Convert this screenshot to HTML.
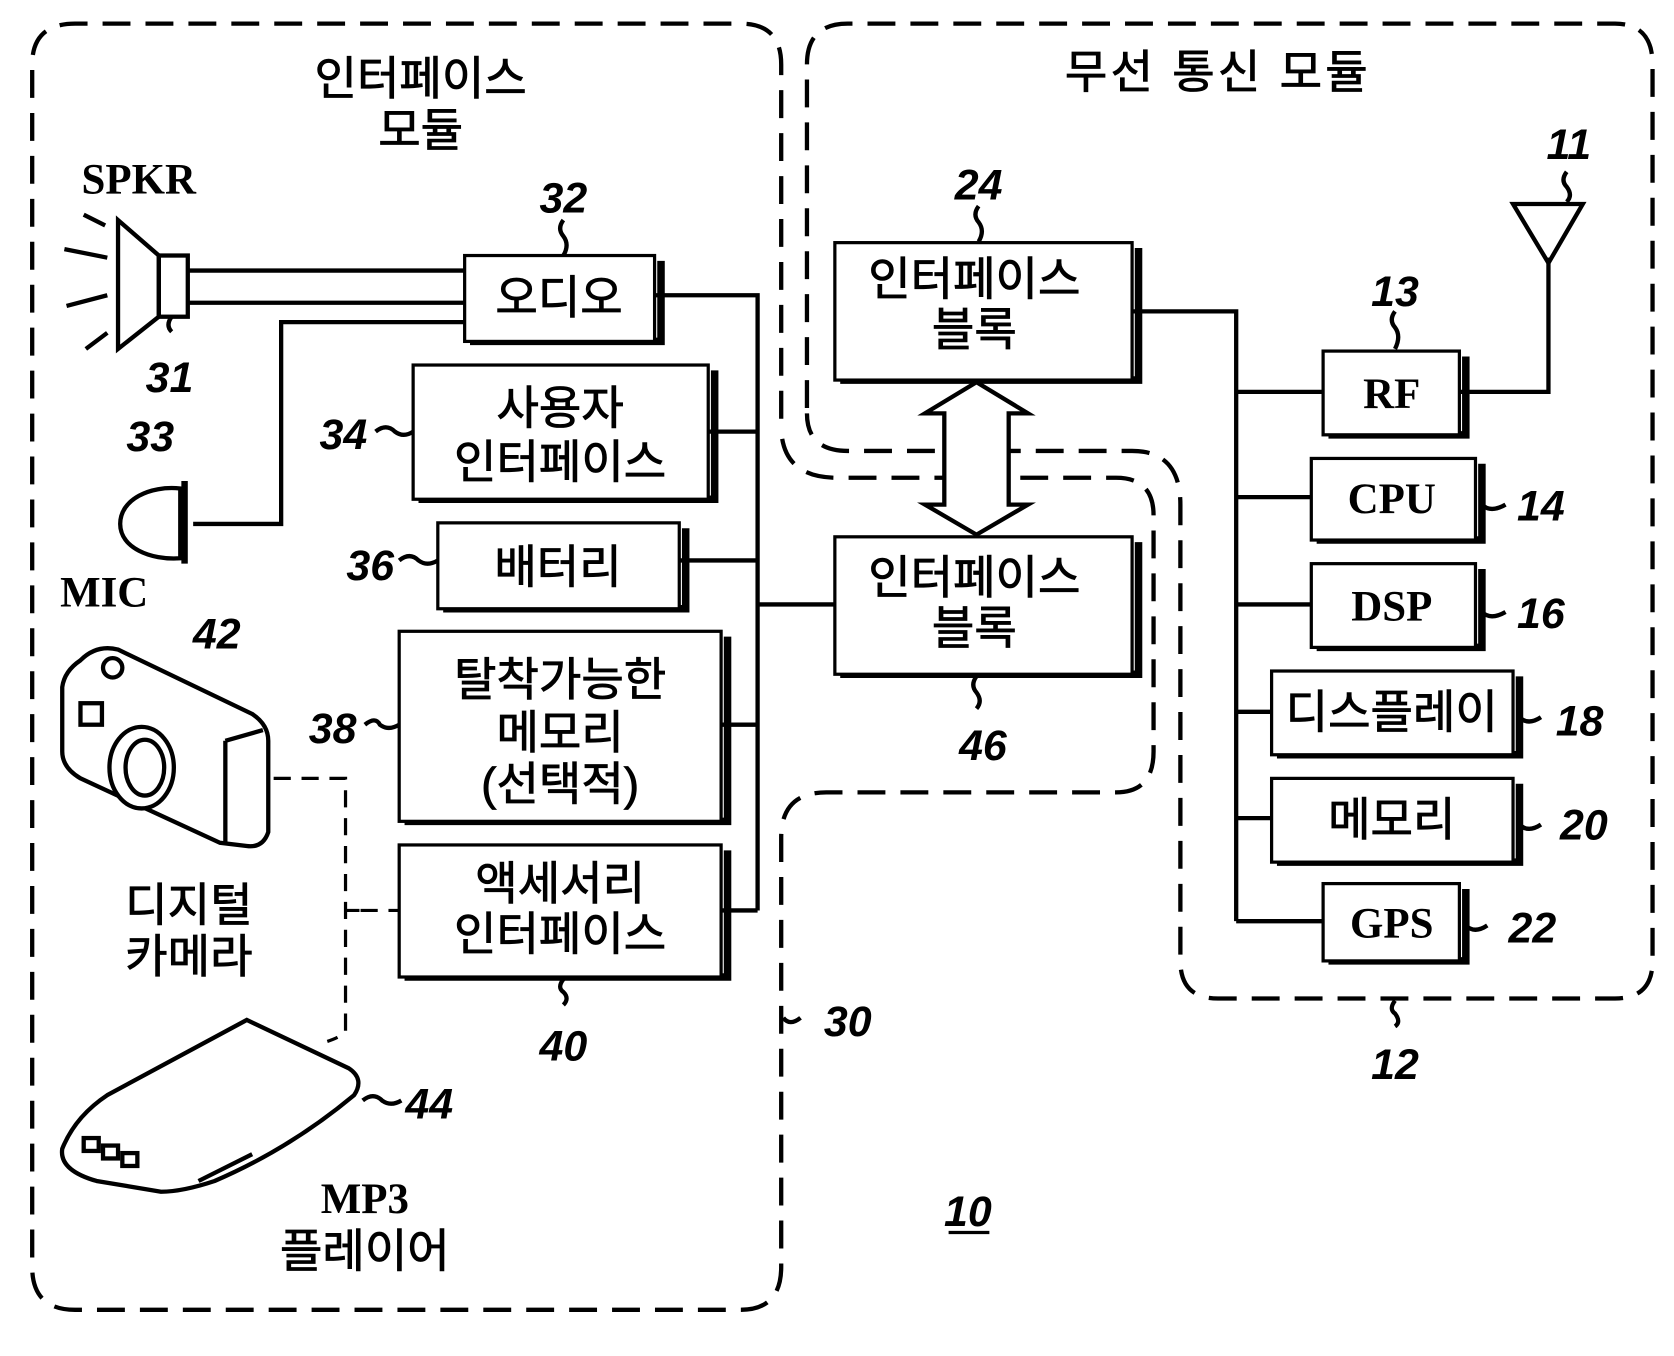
<!DOCTYPE html>
<html><head><meta charset="utf-8"><style>
html,body{margin:0;padding:0;background:#fff;}
svg{display:block;}
.k{font-family:"Liberation Sans","Noto Sans CJK KR","NanumGothic",sans-serif;font-size:43px;fill:#000;stroke:#000;stroke-width:0.8px;}
.n{font-family:"Liberation Sans",sans-serif;font-style:italic;font-weight:bold;font-size:40px;fill:#000;}
.b{font-family:"Liberation Serif",serif;font-weight:bold;font-size:40px;fill:#000;}
</style></head><body>
<svg width="1674" height="1356" viewBox="0 0 1560 1263" preserveAspectRatio="none" xmlns="http://www.w3.org/2000/svg">
<g fill="none" stroke="#000" stroke-width="4" stroke-dasharray="26,14">
<path d="M728,390 L728,60 Q728,22 690,22 L70,22 Q30,22 30,60 L30,1180 Q30,1220 70,1220 L690,1220 Q728,1220 728,1180 L728,780 Q728,738 770,738 L1040,738 Q1075,738 1075,700 L1075,480 Q1075,445 1040,445 L780,445 Q730,445 728,400"/>
<path d="M752,380 L752,60 Q752,22 790,22 L1505,22 Q1540,22 1540,60 L1540,895 Q1540,930 1505,930 L1135,930 Q1100,930 1100,895 L1100,470 Q1100,420 1055,420 L790,420 Q752,420 752,385"/>
</g>
<g stroke="#000" stroke-width="4" fill="none">
<path d="M610,275H706V848M660,402H706M633,522H706M672,675H706M672,848H706M706,563H778"/>
<path d="M1055,290H1152V858M1152,365H1233M1152,463H1222M1152,563H1222M1152,663H1185M1152,762H1185M1152,858H1233"/>
<path d="M1360,365H1443V240"/>
<path d="M1410,190H1475L1443,245Z"/>
<path d="M175,252H433M175,282H433"/>
<path d="M180,488H262V300H433"/>
<path d="M110,205 L148,238 L148,295 L110,325 Z"/>
<rect x="148" y="238" width="27" height="57"/>
<path d="M98,210L78,200M100,240L60,232M100,275L62,285M100,310L80,325"/>
<path d="M168,455 C140,452 112,465 112,488 C112,510 140,522 168,520 Z"/>
<path d="M172,448V525" stroke-width="6"/>
<path d="M880,385 L862,385 L910,356 L958,385 L940,385 L940,470 L958,470 L910,498 L862,470 L880,470 Z" fill="#fff"/>
<path d="M525,205 q-6,8 0,15 q6,8 0,18M912,192 q-6,8 0,15 q6,8 0,18M1300,290 q-6,8 0,15 q6,8 0,20M1460,160 q-6,8 0,14 q6,8 0,14M160,295 q-6,8 0,14"/>
<path d="M350,402 q10,-8 18,0 q8,6 17,0M372,522 q10,-8 18,0 q8,6 18,0M340,675 q10,-8 14,0 q8,6 18,0M1381,470 q8,8 22,0M1381,570 q8,8 22,0M1416,668 q8,8 20,0M1416,768 q8,8 20,0M1366,862 q8,8 20,0M338,1025 q10,-8 18,0 q8,6 18,0M730,948 q6,8 16,0"/>
<path d="M910,630 q-6,8 0,15 q6,8 0,15M525,912 q-6,8 0,12 q6,6 0,12M1300,932 q-6,8 0,12 q6,8 0,12"/>
</g>
<g stroke="#000" stroke-width="3" fill="#fff">
<path d="M438,318 H616 V243" stroke-width="7" fill="none"/><rect x="433" y="238" width="177" height="80"/>
<path d="M390,465 H666 V345" stroke-width="7" fill="none"/><rect x="385" y="340" width="275" height="125"/>
<path d="M413,567 H639 V492" stroke-width="7" fill="none"/><rect x="408" y="487" width="225" height="80"/>
<path d="M377,765 H678 V593" stroke-width="7" fill="none"/><rect x="372" y="588" width="300" height="177"/>
<path d="M377,910 H678 V792" stroke-width="7" fill="none"/><rect x="372" y="787" width="300" height="123"/>
<path d="M783,354 H1061 V231" stroke-width="7" fill="none"/><rect x="778" y="226" width="277" height="128"/>
<path d="M783,628 H1061 V505" stroke-width="7" fill="none"/><rect x="778" y="500" width="277" height="128"/>
<path d="M1238,405 H1366 V332" stroke-width="7" fill="none"/><rect x="1233" y="327" width="127" height="78"/>
<path d="M1227,503 H1381 V432" stroke-width="7" fill="none"/><rect x="1222" y="427" width="153" height="76"/>
<path d="M1227,603 H1381 V530" stroke-width="7" fill="none"/><rect x="1222" y="525" width="153" height="78"/>
<path d="M1190,703 H1416 V630" stroke-width="7" fill="none"/><rect x="1185" y="625" width="225" height="78"/>
<path d="M1190,803 H1416 V730" stroke-width="7" fill="none"/><rect x="1185" y="725" width="225" height="78"/>
<path d="M1238,895 H1366 V828" stroke-width="7" fill="none"/><rect x="1233" y="823" width="127" height="72"/>
</g>
<g stroke="#000" stroke-width="4" fill="#fff">
<path d="M75,615 Q90,600 110,605 L235,665 Q250,675 250,690 L250,775 Q245,790 230,788 L205,785 L75,725 Q58,715 58,700 L58,640 Q60,625 75,615 Z"/>
<path d="M210,690 L245,680 M210,690 L210,785"/>
<ellipse cx="132" cy="715" rx="30" ry="38"/><ellipse cx="135" cy="715" rx="18" ry="26"/>
<rect x="75" y="655" width="20" height="20"/>
<circle cx="105" cy="622" r="9"/>
</g>
<path d="M255,725 H322 V960 Q320,965 305,970 M322,848 L335,848 M336,848 H372" stroke="#000" stroke-width="3" fill="none" stroke-dasharray="16,10"/>
<g stroke="#000" stroke-width="4" fill="#fff">
<path d="M230,950 L325,995 Q340,1005 330,1020 Q270,1070 200,1100 Q170,1110 150,1110 L90,1100 Q55,1090 58,1070 Q70,1040 100,1020 Z"/>
<rect x="78" y="1060" width="14" height="12"/><rect x="96" y="1067" width="14" height="12"/><rect x="114" y="1074" width="14" height="12"/>
<path d="M185,1100 L235,1075" />
</g>
<text class="k" x="392" y="88" text-anchor="middle">인터페이스</text>
<text class="k" x="392" y="136" text-anchor="middle">모듈</text>
<text class="k" x="1135" y="82" text-anchor="middle" letter-spacing="3">무선 통신 모듈</text>
<text class="b" x="76" y="180">SPKR</text>
<text class="b" x="56" y="565">MIC</text>
<text class="k" x="521" y="292" text-anchor="middle">오디오</text>
<text class="k" x="522" y="395" text-anchor="middle">사용자</text>
<text class="k" x="522" y="445" text-anchor="middle">인터페이스</text>
<text class="k" x="520" y="543" text-anchor="middle">배터리</text>
<text class="k" x="522" y="648" text-anchor="middle">탈착가능한</text>
<text class="k" x="522" y="697" text-anchor="middle">메모리</text>
<text class="k" x="522" y="745" text-anchor="middle">(선택적)</text>
<text class="k" x="522" y="838" text-anchor="middle">액세서리</text>
<text class="k" x="522" y="885" text-anchor="middle">인터페이스</text>
<text class="k" x="908" y="275" text-anchor="middle">인터페이스</text>
<text class="k" x="908" y="322" text-anchor="middle">블록</text>
<text class="k" x="908" y="553" text-anchor="middle">인터페이스</text>
<text class="k" x="908" y="600" text-anchor="middle">블록</text>
<text class="b" x="1297" y="380" text-anchor="middle">RF</text>
<text class="b" x="1297" y="478" text-anchor="middle">CPU</text>
<text class="b" x="1297" y="578" text-anchor="middle">DSP</text>
<text class="k" x="1297" y="678" text-anchor="middle" font-size="38">디스플레이</text>
<text class="k" x="1297" y="778" text-anchor="middle" font-size="38">메모리</text>
<text class="b" x="1297" y="873" text-anchor="middle">GPS</text>
<text class="k" x="176" y="858" text-anchor="middle">디지털</text>
<text class="k" x="176" y="906" text-anchor="middle">카메라</text>
<text class="b" x="340" y="1130" text-anchor="middle" font-weight="normal">MP3</text>
<text class="k" x="340" y="1180" text-anchor="middle">플레이어</text>
<text class="n" x="525" y="198" text-anchor="middle">32</text>
<text class="n" x="912" y="186" text-anchor="middle">24</text>
<text class="n" x="1462" y="148" text-anchor="middle">11</text>
<text class="n" x="1300" y="285" text-anchor="middle">13</text>
<text class="n" x="158" y="365" text-anchor="middle">31</text>
<text class="n" x="140" y="420" text-anchor="middle">33</text>
<text class="n" x="320" y="418" text-anchor="middle">34</text>
<text class="n" x="345" y="540" text-anchor="middle">36</text>
<text class="n" x="310" y="692" text-anchor="middle">38</text>
<text class="n" x="202" y="604" text-anchor="middle">42</text>
<text class="n" x="916" y="708" text-anchor="middle">46</text>
<text class="n" x="525" y="988" text-anchor="middle">40</text>
<text class="n" x="790" y="965" text-anchor="middle">30</text>
<text class="n" x="400" y="1042" text-anchor="middle">44</text>
<text class="n" x="1436" y="485" text-anchor="middle">14</text>
<text class="n" x="1436" y="585" text-anchor="middle">16</text>
<text class="n" x="1472" y="685" text-anchor="middle">18</text>
<text class="n" x="1476" y="782" text-anchor="middle">20</text>
<text class="n" x="1428" y="878" text-anchor="middle">22</text>
<text class="n" x="1300" y="1005" text-anchor="middle">12</text>
<text class="n" x="902" y="1142" text-anchor="middle">10</text>
<path d="M884,1148H922" stroke="#000" stroke-width="3"/>
</svg>
</body></html>
